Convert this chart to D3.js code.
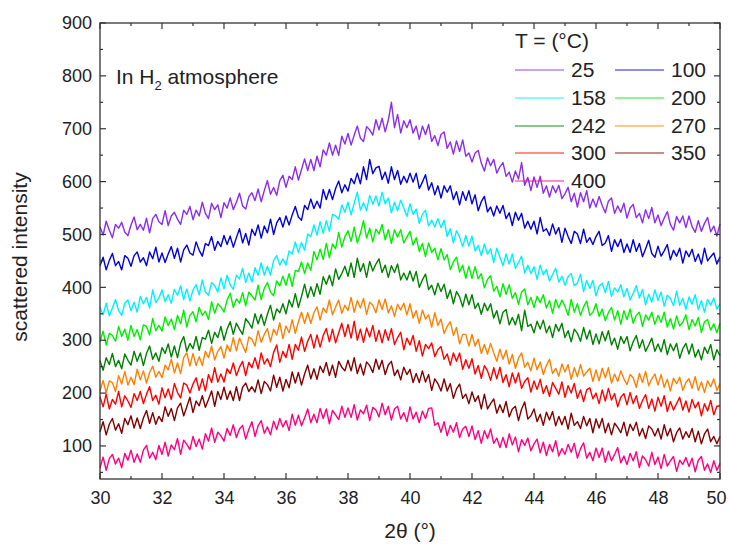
<!DOCTYPE html>
<html><head><meta charset="utf-8">
<script src="https://cdn.jsdelivr.net/npm/d3@7"></script>
<style>body{margin:0;background:#fff;}svg{display:block;font-family:"Liberation Sans",Arial,sans-serif;}</style>
</head><body><svg id="c" width="729" height="545"></svg>
<script>
const xStart = 30, xStep = 0.1;
const temps = ["25","100","158","200","242","270","300","350","400"];
const colors = ["#8b2cf0","#0000dd","#00f0ff","#00ee00","#008000","#ff8000","#ff0000","#800000","#ff0080"];
const xTicks = [30,32,34,36,38,40,42,44,46,48,50];
const yTicks = [100,200,300,400,500,600,700,800,900];

const s25 = [514,499,525,508,494,519,512,523,504,498, 518,533,509,519,508,531,503,530,538,524, 519,545,517,535,542,529,519,546,538,553, 528,546,535,561,540,530,559,547,556,532, 560,550,569,547,561,578,554,548,571,579, 564,586,562,583,602,576,589,574,602,612, 589,610,604,628,603,623,643,621,642,621, 648,628,660,650,673,650,669,650,686,671, 691,669,688,705,682,676,704,698,688,717, 698,720,694,716,750,702,727,692,715,702, 717,692,705,680,705,689,708,676,687,668, 689,694,663,675,652,677,657,679,648,654, 637,654,659,635,620,645,630,642,616,628, 636,610,618,599,620,605,636,593,608,583, 609,589,610,578,592,571,592,579,593,568, 577,589,562,578,552,579,562,583,550,567, 552,572,555,541,563,569,540,554,542,559, 531,550,557,532,540,522,547,530,551,522, 537,517,531,543,519,508,534,522,535,513, 535,515,504,526,506,521,532,505,516,497, 520];
const s100 = [441,457,433,451,464,441,449,433,460,455, 440,460,467,448,456,441,467,454,476,448, 465,447,463,477,455,474,448,471,480,465, 461,486,470,459,483,479,496,470,487,477, 498,481,497,476,494,511,484,502,480,510, 498,518,493,516,503,529,500,522,532,514, 535,518,537,553,533,527,555,547,567,549, 563,550,585,566,585,566,587,601,579,594, 582,606,596,616,596,628,604,642,615,626, 629,604,618,597,628,604,621,595,610,598, 616,599,616,587,599,613,584,598,575,592, 569,592,580,592,566,581,556,581,564,583, 558,575,545,562,572,543,552,535,554,540, 555,530,541,517,542,527,540,512,525,510, 525,501,532,506,511,498,520,501,513,485, 512,496,483,506,501,483,510,485,494,481, 496,506,479,484,498,468,490,477,491,466, 482,466,490,468,483,458,473,489,464,457, 478,459,469,481,452,470,459,474,446,469, 458,472,449,463,444,474,450,458,465,444, 458];
const s158 = [363,348,370,346,361,377,356,347,370,376, 356,372,353,383,369,381,361,395,371,380, 395,373,386,370,396,385,403,377,397,374, 395,405,386,414,391,385,409,403,391,418, 397,423,405,396,423,416,436,409,427,410, 437,423,446,423,440,423,451,460,442,454, 442,469,463,486,466,485,470,501,496,518, 499,524,502,526,506,538,535,529,556,542, 561,537,559,580,546,560,545,574,557,573, 554,580,558,569,541,561,545,565,550,534, 558,538,548,521,538,546,516,527,514,530, 513,527,496,511,484,507,495,477,498,478, 497,469,479,460,482,463,473,447,474,457, 441,463,444,463,436,447,459,427,442,426, 439,415,442,424,434,412,424,436,410,421, 404,420,426,403,408,425,392,413,398,413, 384,402,408,390,411,383,399,391,405,382, 398,376,389,403,380,396,367,387,372,395, 375,391,364,385,379,365,393,366,379,358, 382,368,386,358,375,353,377,366,380,359, 369];
const s200 = [297,317,291,313,309,298,326,307,321,300, 328,307,320,301,329,326,310,341,318,328, 317,344,328,340,320,347,331,357,325,347, 354,335,362,347,355,339,373,351,369,363, 353,376,389,362,378,370,390,365,391,384, 376,404,377,398,409,391,384,412,403,421, 404,426,402,432,430,448,426,446,432,468, 452,472,453,483,456,482,473,504,476,496, 507,487,514,484,502,526,493,512,486,510, 501,519,490,509,483,509,495,509,484,495, 506,480,494,468,483,458,484,466,474,452, 473,452,462,434,448,457,429,442,417,440, 417,439,416,426,399,415,422,393,402,382, 407,387,405,379,390,368,391,397,367,381, 362,383,371,386,361,375,351,377,361,376, 364,347,377,353,369,347,363,374,347,353, 369,345,359,337,352,362,338,356,330,356, 339,359,332,347,353,326,348,338,353,330, 347,334,353,325,341,321,346,327,334,348, 320,339,327,343,315,335,339,319,331,314, 332];
const s242 = [261,243,267,254,275,250,262,246,274,262, 253,279,260,276,252,275,289,264,276,260, 286,275,293,268,289,267,294,307,279,294, 284,307,281,305,302,319,294,315,305,326, 300,321,335,311,332,321,311,341,333,323, 350,331,349,328,349,366,338,359,352,369, 350,376,363,388,362,383,406,380,401,383, 407,387,420,406,423,403,435,415,426,440, 421,446,419,455,430,445,419,449,431,444, 454,428,442,419,441,428,444,414,427,414, 431,412,430,400,414,425,396,404,386,408, 392,406,379,395,369,392,382,363,387,367, 386,360,370,349,370,356,369,342,356,331, 353,358,329,343,329,349,318,357,326,330, 314,336,321,338,314,327,305,330,317,332, 305,318,297,321,313,298,324,302,319,292, 312,293,316,299,318,291,304,283,307,294, 307,280,297,309,285,301,279,291,304,279, 293,278,301,273,293,280,294,266,284,294, 274,293,268,282,263,287,275,292,263,282, 271];
const s270 = [204,224,201,223,220,203,233,217,241,215, 230,216,245,225,242,219,239,251,230,241, 229,253,244,264,238,257,237,267,276,251, 275,252,269,252,279,267,289,263,279,288, 266,291,279,305,280,304,290,277,306,302, 289,318,296,311,322,297,321,310,333,303, 327,314,339,313,335,353,332,352,332,352, 363,338,361,352,376,348,363,376,351,366, 356,381,353,375,361,379,349,372,366,352, 376,358,378,352,365,345,368,357,370,348, 369,342,356,332,357,340,348,325,352,328, 340,313,326,335,309,324,293,311,311,289, 311,289,302,275,292,274,294,276,260,283, 264,281,255,273,247,266,276,249,258,242, 266,244,259,235,252,264,237,247,232,255, 240,254,226,248,231,254,232,240,247,222, 244,223,247,229,248,219,236,222,242,227, 216,235,229,211,237,220,241,214,227,236, 215,235,211,226,204,228,218,230,205,220, 227,209,231,205,221,201,223,212,227,205, 218];
const s300 = [193,174,198,170,188,179,203,174,195,185, 173,199,186,203,180,198,212,186,196,179, 210,191,208,188,218,201,191,219,215,200, 217,229,205,227,204,235,220,248,221,236, 221,246,237,257,233,249,260,233,258,248, 267,246,276,255,265,250,277,291,258,279, 267,292,264,292,281,306,279,298,311,285, 310,287,309,322,297,321,295,314,332,307, 330,304,336,300,321,296,323,306,328,298, 319,295,320,300,322,292,305,315,282,304, 291,309,279,299,270,292,284,295,269,282, 288,264,274,253,276,260,276,245,263,247, 265,236,252,228,252,242,224,248,227,249, 220,235,212,238,219,238,209,222,229,202, 223,207,226,199,214,194,220,209,198,221, 192,214,200,218,190,206,184,206,210,189, 200,180,206,185,209,187,199,174,192,199, 178,201,180,195,171,186,197,171,189,166, 192,175,195,165,184,168,180,192,168,185, 164,188,172,183,157,180,166,186,159,175, 176];
const s350 = [127,146,121,141,152,130,142,124,152,140, 157,134,153,133,153,167,143,163,141,156, 146,174,156,171,148,172,181,157,174,192, 163,185,176,195,173,188,204,175,203,188, 211,188,204,186,212,186,211,219,203,212, 202,225,199,222,216,204,234,211,230,204, 226,210,240,219,239,215,236,253,227,246, 226,251,239,258,233,253,230,260,249,242, 262,242,267,237,255,234,259,252,239,264, 245,262,235,253,260,233,244,225,249,235, 245,220,237,220,242,221,235,205,227,218, 204,227,204,218,190,208,217,190,198,180, 202,184,195,170,198,170,180,189,162,178, 163,184,155,170,175,148,170,183,151,157, 170,146,160,139,164,149,165,138,156,140, 156,132,162,139,146,133,156,138,152,125, 151,134,152,125,143,121,143,135,125,145, 119,141,129,145,119,133,114,138,132,119, 133,113,140,119,133,108,125,134,113,127, 116,133,108,128,104,123,132,108,118,104, 118];
const s400 = [58,79,54,76,84,66,77,59,86,73, 92,69,85,69,92,101,77,88,74,101, 84,107,81,102,93,114,84,111,103,93, 118,99,113,94,123,109,134,107,126,119, 109,133,120,140,116,132,139,113,131,146, 118,138,148,124,136,121,147,131,152,136, 148,129,160,139,158,138,153,170,144,160, 144,171,152,170,142,167,159,150,175,154, 172,154,178,149,168,161,177,148,173,168, 155,181,159,175,149,170,175,151,163,146, 174,151,164,144,166,152,171,172,139,144, 126,146,119,139,126,144,116,132,137,118, 138,112,129,105,129,114,132,105,115,97, 116,97,123,102,117,89,112,101,115,91, 104,113,87,107,82,103,89,110,81,95, 84,103,88,105,77,95,106,77,88,72, 96,78,96,69,90,72,84,97,68,81, 65,86,72,89,59,81,74,62,88,65, 79,57,84,62,72,80,52,73,65,78, 61,77,51,73,80,54,66,50,72,54, 67];
const seriesValues = [s25,s100,s158,s200,s242,s270,s300,s350,s400];

const svg = d3.select("#c");
const L = 100, R = 720, T = 23, B = 479;
const x = d3.scaleLinear().domain([30,50]).range([L,R]);
const y = d3.scaleLinear().domain([37.5,900]).range([B,T]);
const axisCol = "#333";
const ff = "Liberation Sans, Arial, sans-serif";

// series
const line = d3.line().x((d,i)=>x(xStart + i*xStep)).y(d=>y(d));
const plot = svg.append("g");
seriesValues.forEach((vals,k)=>{
  plot.append("path").attr("d", line(vals)).attr("fill","none")
    .attr("stroke", colors[k]).attr("stroke-width",1.4).attr("stroke-linejoin","round");
});

// frame
svg.append("rect").attr("x",L).attr("y",T).attr("width",R-L).attr("height",B-T)
  .attr("fill","none").attr("stroke",axisCol).attr("stroke-width",1.3);

// ticks inward on all sides
const xMinor = d3.range(31,50,2), yMinor = d3.range(50,900,100);
const tk = svg.append("g").attr("stroke",axisCol).attr("stroke-width",1.2);
function xt(vals,len){ vals.forEach(v=>{ tk.append("line").attr("x1",x(v)).attr("x2",x(v)).attr("y1",B).attr("y2",B-len);
  tk.append("line").attr("x1",x(v)).attr("x2",x(v)).attr("y1",T).attr("y2",T+len);});}
function yt(vals,len){ vals.forEach(v=>{ tk.append("line").attr("y1",y(v)).attr("y2",y(v)).attr("x1",L).attr("x2",L+len);
  tk.append("line").attr("y1",y(v)).attr("y2",y(v)).attr("x1",R).attr("x2",R-len);});}
xt(xTicks,6); xt(xMinor,3); yt(yTicks,6); yt(yMinor,3);

// tick labels
const xAxis = d3.axisBottom(x).tickValues(xTicks).tickSize(0).tickPadding(12).tickFormat(d3.format("d"));
const gx = svg.append("g").attr("transform",`translate(0,${B})`).call(xAxis);
gx.select(".domain").remove();
gx.selectAll("text").attr("font-size",18).attr("fill","#222").attr("font-family",ff)
  .attr("dx", d => d === 50 ? -4 : 0);
const yAxis = d3.axisLeft(y).tickValues(yTicks).tickSize(0).tickPadding(8).tickFormat(d3.format("d"));
const gy = svg.append("g").attr("transform",`translate(${L},0)`).call(yAxis);
gy.select(".domain").remove();
gy.selectAll("text").attr("font-size",18).attr("fill","#222").attr("font-family",ff);

// titles
svg.append("text").attr("x",410).attr("y",538).attr("text-anchor","middle").attr("font-size",21).attr("fill","#222")
  .text("2θ (°)");
svg.append("text").attr("transform","translate(27,257) rotate(-90)").attr("text-anchor","middle").attr("font-size",21).attr("fill","#222")
  .text("scattered intensity");

// annotation
const ann = svg.append("text").attr("x",116).attr("y",84).attr("font-size",21).attr("fill","#222");
ann.append("tspan").text("In H");
ann.append("tspan").attr("font-size",13).attr("dy",6).text("2");
ann.append("tspan").attr("dy",-6).text(" atmosphere");

// legend
const lg = svg.append("g");
lg.append("text").attr("x",515).attr("y",48).attr("font-size",21).attr("fill","#222").text("T = (°C)");
const rowY = [70,98,126,153,181];
temps.forEach((t,k)=>{
  const col = k%2, row = Math.floor(k/2);
  const x0 = col===0 ? 515 : 615;
  lg.append("line").attr("x1",x0).attr("x2",x0+49).attr("y1",rowY[row]).attr("y2",rowY[row])
    .attr("stroke",colors[k]).attr("stroke-width",1.5).attr("stroke-opacity",0.6);
  lg.append("text").attr("x",x0+56).attr("y",rowY[row]+7).attr("font-size",21).attr("fill","#222").text(t);
});
</script></body></html>
